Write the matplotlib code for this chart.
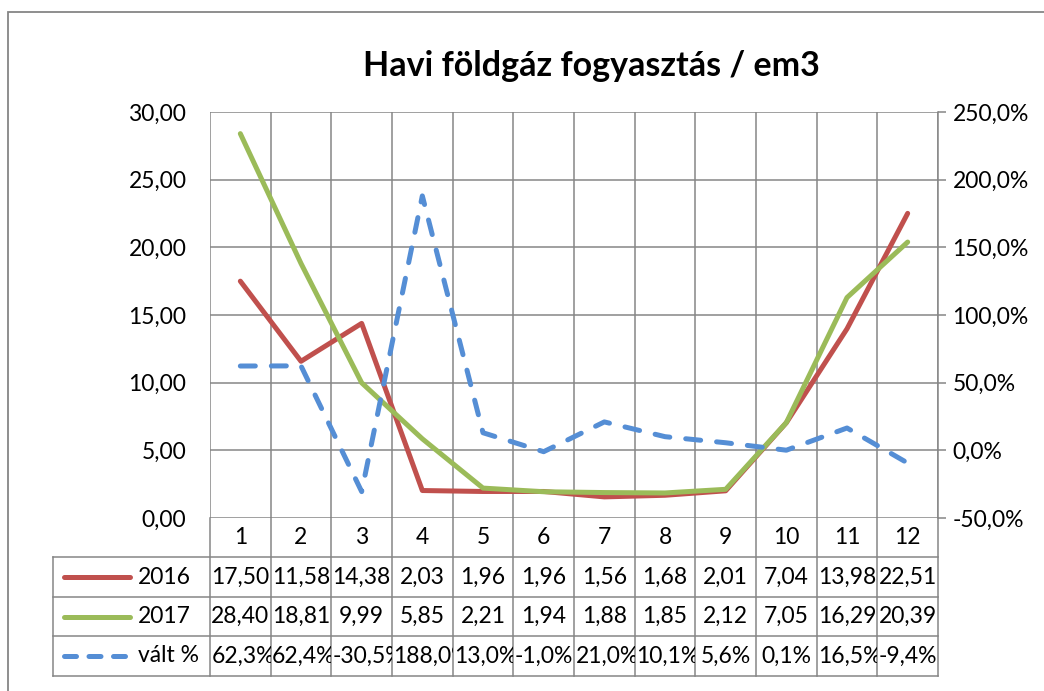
import matplotlib
matplotlib.use('Agg')
import matplotlib.pyplot as plt
import numpy as np
from matplotlib.transforms import blended_transform_factory, Bbox, TransformedBbox
from matplotlib.lines import Line2D
from matplotlib.ticker import FuncFormatter

plt.rcParams['font.family'] = ['Lato', 'DejaVu Sans']

months = list(range(1, 13))
fogy_2016 = [17.50, 11.58, 14.38, 2.03, 1.96, 1.96, 1.56, 1.68, 2.01, 7.04, 13.98, 22.51]
fogy_2017 = [28.40, 18.81, 9.99, 5.85, 2.21, 1.94, 1.88, 1.85, 2.12, 7.05, 16.29, 20.39]
valt_pct = [62.3, 62.4, -30.5, 188.0, 13.0, -1.0, 21.0, 10.1, 5.6, 0.1, 16.5, -9.4]
series_names = ['2016', '2017', 'vált %']

W, H = 1044, 691
fig = plt.figure(figsize=(W / 100, H / 100), dpi=100)

def fx(p):
    return p / W

def fy(p):
    return 1 - p / H

gc = '#868686'
fs = 16.5
c16, c17, cv = '#C0504D', '#9BBB59', '#558ED5'
lw = 3.6

# outer chart border (cut off at right / bottom)
fig.add_artist(plt.Rectangle((fx(8), fy(H + 20)), fx(W + 20) - fx(8), fy(12) - fy(H + 20),
                             transform=fig.transFigure, fill=False, ec=gc, lw=1.3))

L, R, T, B = 210, 938, 112, 518
ax = fig.add_axes([fx(L), fy(B), fx(R) - fx(L), fy(T) - fy(B)])
ax2 = ax.twinx()

ax.set_xlim(0.5, 12.5)
ax.set_ylim(0, 30)
ax2.set_ylim(-50, 250)
ax.set_yticks(np.arange(0, 31, 5))
ax2.set_yticks(np.arange(-50, 251, 50))
ax.yaxis.set_major_formatter(FuncFormatter(lambda v, _: f"{v:.2f}".replace('.', ',')))
ax2.yaxis.set_major_formatter(FuncFormatter(lambda v, _: f"{v:.1f}%".replace('.', ',')))
ax.set_xticks([])
ax.set_xticks(np.arange(0.5, 13, 1), minor=True)
ax.tick_params(axis='x', which='both', length=0, labelbottom=False)
ax.tick_params(axis='y', length=0, pad=17, labelsize=fs)
ax2.tick_params(axis='y', length=5.5, width=1.1, color=gc, pad=5, labelsize=fs)
ax.grid(which='minor', axis='x', color=gc, lw=1.1)
ax.grid(which='major', axis='y', color=gc, lw=1.1)
ax.set_axisbelow(True)
for a in (ax, ax2):
    for s in a.spines.values():
        s.set_visible(False)
ax2.spines['right'].set_visible(True)
ax2.spines['right'].set_color(gc)
ax2.spines['right'].set_linewidth(1.1)

ax.plot(months, fogy_2016, color=c16, lw=lw, solid_capstyle='round', solid_joinstyle='round', zorder=3)
ax.plot(months, fogy_2017, color=c17, lw=lw, solid_capstyle='round', solid_joinstyle='round', zorder=3)
ax2.plot(months, valt_pct, color=cv, lw=lw, dashes=(3, 3.2), dash_capstyle='round', zorder=3)

fig.text(fx(591), fy(66), 'Havi földgáz fogyasztás / em3', fontsize=24.5, fontweight='bold',
         ha='center', va='center')

# data table under the plot
tr = blended_transform_factory(ax.transData, fig.transFigure)
rows_y = [518, 557, 597, 636, 676]
for b in np.arange(0.5, 13, 1):
    fig.add_artist(Line2D([b, b], [fy(518), fy(676)], transform=tr, color=gc, lw=1.1))
for yy in rows_y[1:]:
    fig.add_artist(Line2D([fx(53), fx(R)], [fy(yy), fy(yy)], transform=fig.transFigure, color=gc, lw=1.1))
fig.add_artist(Line2D([fx(53), fx(53)], [fy(557), fy(676)], transform=fig.transFigure, color=gc, lw=1.1))

for m in months:
    fig.text(m, fy(537.5), str(m), transform=tr, fontsize=fs, ha='center', va='center')

row_text = [
    [f"{v:.2f}".replace('.', ',') for v in fogy_2016],
    [f"{v:.2f}".replace('.', ',') for v in fogy_2017],
    [f"{v:.1f}%".replace('.', ',') for v in valt_pct],
]
cells = []
for r, labels in enumerate(row_text):
    y0, y1 = rows_y[r + 1], rows_y[r + 2]
    yc = fy((y0 + y1) / 2)
    for m, s in zip(months, labels):
        t = fig.text(m, yc, s, transform=tr, fontsize=fs, ha='center', va='center')
        t.set_clip_box(TransformedBbox(Bbox([[m - 0.5, fy(y1)], [m + 0.5, fy(y0)]]), tr))
        cells.append((t, m))

# legend keys in the first column
key_styles = [dict(color=c16), dict(color=c17), dict(color=cv, dashes=(2.4, 2.5), dash_capstyle='round')]
key_end = [130, 130, 125]
for r, (name, st) in enumerate(zip(series_names, key_styles)):
    yc = fy((rows_y[r + 1] + rows_y[r + 2]) / 2)
    fig.add_artist(Line2D([fx(64), fx(key_end[r])], [yc, yc], transform=fig.transFigure, lw=lw,
                          solid_capstyle='round', **st))
    fig.text(fx(138), yc, name, fontsize=fs, ha='left', va='center')

# too wide texts: left aligned and clipped like in the spreadsheet table
fig.canvas.draw()
r_ = fig.canvas.get_renderer()
cell_w = ax.transData.transform((1, 0))[0] - ax.transData.transform((0, 0))[0]
for t, m in cells:
    if t.get_window_extent(r_).width > cell_w - 2:
        t.set_ha('left')
        t.set_x(m - 0.5 + 1.5 / cell_w)

fig.savefig('out.png', dpi=100)
